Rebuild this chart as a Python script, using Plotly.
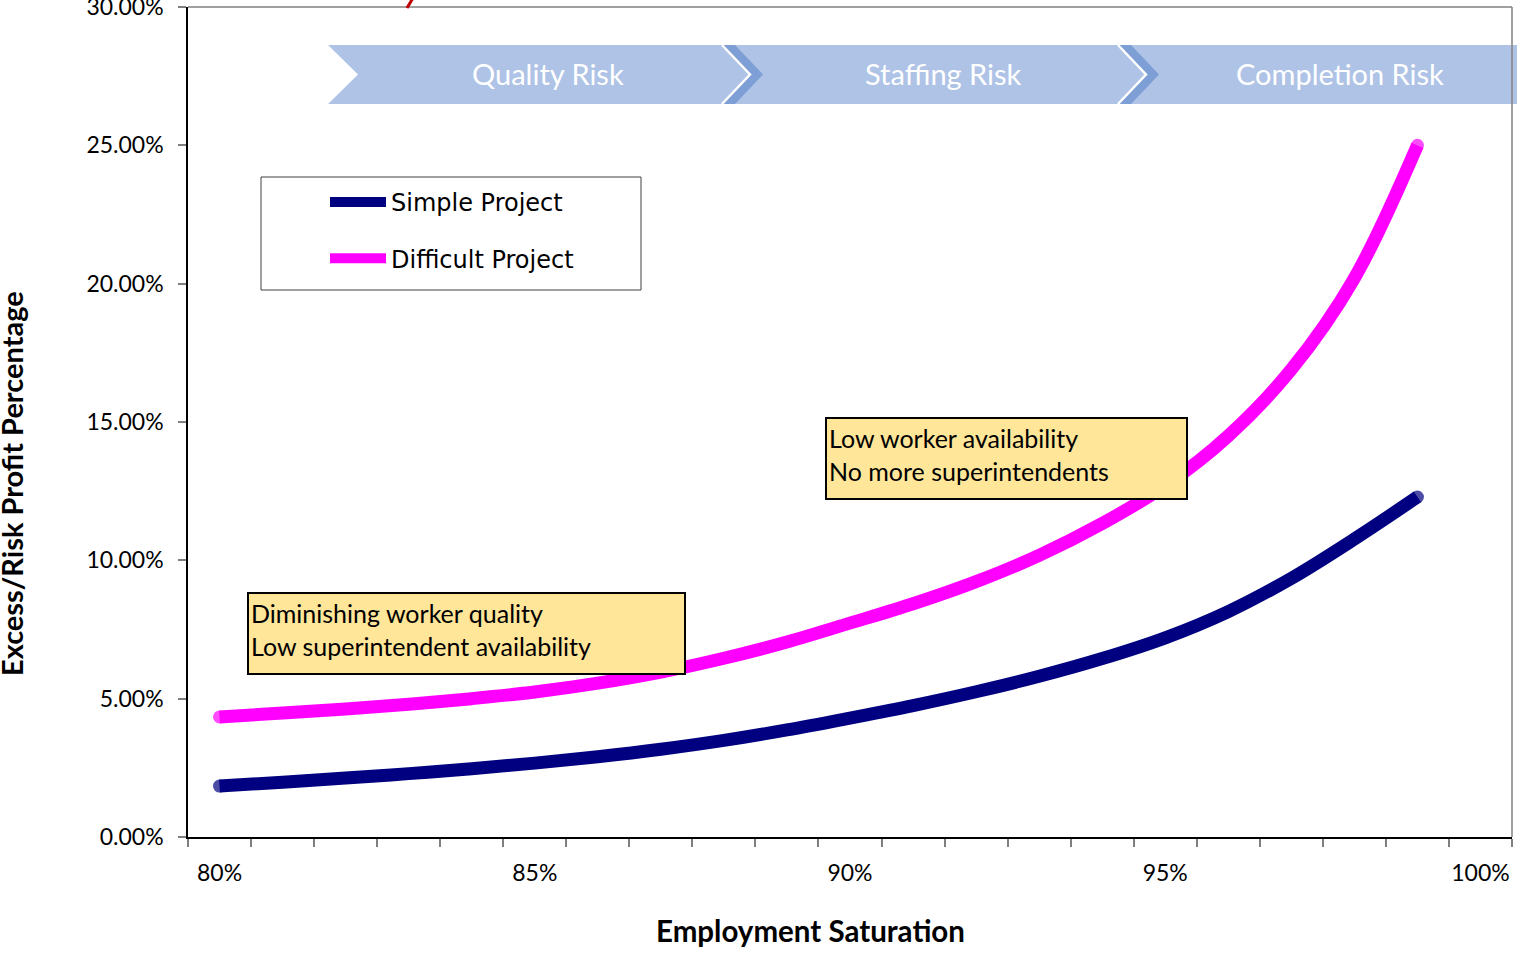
import plotly.graph_objects as go

# Employment saturation (%) and the excess/risk profit percentage for each project type
saturation = list(range(80, 100))
simple_project = [1.84, 1.98, 2.13, 2.29, 2.47, 2.67, 2.90, 3.17, 3.49, 3.87,
                  4.30, 4.75, 5.25, 5.81, 6.45, 7.20, 8.15, 9.35, 10.77, 12.29]
difficult_project = [4.34, 4.48, 4.63, 4.80, 5.00, 5.24, 5.56, 5.96, 6.46, 7.05,
                     7.73, 8.43, 9.23, 10.18, 11.33, 12.70, 14.50, 16.90, 20.20, 25.00]

x_tick_values = [80, 85, 90, 95, 100]
x_tick_labels = [f"{v}%" for v in x_tick_values]
y_tick_values = [0, 5, 10, 15, 20, 25, 30]
y_tick_labels = [f"{v:.2f}%" for v in y_tick_values]
risk_stages = ["Quality Risk", "Staffing Risk", "Completion Risk"]
note_quality = "Diminishing worker quality<br>Low superintendent availability"
note_staffing = "Low worker availability<br>No more superintendents"

W, H = 1517, 969
ML, MR, MT, MB = 188, 5, 7, 132
PW, PH = W - ML - MR, H - MT - MB

TEXT_FONT = "Lato, 'Open Sans', sans-serif"


def px(x):
    """Horizontal pixel -> paper fraction."""
    return (x - ML) / PW


def py(y):
    """Vertical pixel (from top) -> paper fraction."""
    return (MT + PH - y) / PH


fig = go.Figure()

series = [("Simple Project", simple_project, "#000080"),
          ("Difficult Project", difficult_project, "#FF00FF")]
for name, values, color in series:
    n = len(values)
    fig.add_trace(go.Scatter(
        x=saturation, y=values, name=name, legendgroup=name,
        mode="lines+markers",
        line=dict(color=color, width=13, shape="spline", smoothing=1.0),
        marker=dict(color=color, size=[13] + [0] * (n - 2) + [13], line=dict(width=0)),
        hoverinfo="skip",
    ))

shapes = []

# risk stage chevrons across the top of the plot
band_top, band_bot = 45, 104
mid = (band_top + band_bot) / 2
light, dark = "#AEC3E6", "#7E9ED6"
chevrons = [(328, 722), (722, 1118), (1118, 1600)]
for left, right in reversed(chevrons):
    tip = right + 28
    notch = left + 30
    path = (f"M {px(left)} {py(band_top)} L {px(right)} {py(band_top)} "
            f"L {px(tip)} {py(mid)} L {px(right)} {py(band_bot)} "
            f"L {px(left)} {py(band_bot)} L {px(notch)} {py(mid)} Z")
    shapes.append(dict(type="path", xref="paper", yref="paper", path=path,
                       fillcolor=light, line=dict(width=0), layer="above"))
for _, right in chevrons[:2]:
    path = (f"M {px(right)} {py(band_top)} L {px(right + 13)} {py(band_top)} "
            f"L {px(right + 41)} {py(mid)} L {px(right + 13)} {py(band_bot)} "
            f"L {px(right)} {py(band_bot)} L {px(right + 28)} {py(mid)} Z")
    shapes.append(dict(type="path", xref="paper", yref="paper", path=path,
                       fillcolor=dark, line=dict(width=0), layer="above"))
    path = (f"M {px(right)} {py(band_top)} L {px(right + 28)} {py(mid)} "
            f"L {px(right)} {py(band_bot)}")
    shapes.append(dict(type="path", xref="paper", yref="paper", path=path,
                       line=dict(color="white", width=2.5), layer="above"))

# callout boxes
for x0, y0, x1, y1 in [(248, 593, 685, 674), (826, 418, 1187, 499)]:
    shapes.append(dict(type="rect", xref="paper", yref="paper",
                       x0=px(x0), x1=px(x1), y0=py(y1), y1=py(y0),
                       fillcolor="#FFE699", line=dict(color="black", width=2),
                       layer="above"))

# legend frame
shapes.append(dict(type="rect", xref="paper", yref="paper",
                   x0=px(261), x1=px(641), y0=py(290), y1=py(177),
                   fillcolor="white", line=dict(color="#404040", width=1),
                   layer="above"))

# plot area frame (top and right)
shapes.append(dict(type="line", xref="paper", yref="paper", x0=0, x1=1, y0=1, y1=1,
                   line=dict(color="#808080", width=1.5), layer="above"))
shapes.append(dict(type="line", xref="paper", yref="paper", x0=1, x1=1, y0=0, y1=1,
                   line=dict(color="#808080", width=1.5), layer="above"))

# small red pointer stub entering from the top
shapes.append(dict(type="line", xref="paper", yref="paper",
                   x0=px(413), y0=py(-2), x1=px(407), y1=py(8),
                   line=dict(color="#C00000", width=3), layer="above"))

annotations = []
for label, cx in zip(risk_stages, [548, 943, 1340]):
    annotations.append(dict(xref="paper", yref="paper", x=px(cx), y=py(mid - 1.5),
                            text=label, showarrow=False, xanchor="center", yanchor="middle",
                            font=dict(family=TEXT_FONT, size=29, color="white")))

for text, x0, y0 in [(note_quality, 249, 596), (note_staffing, 827, 421)]:
    annotations.append(dict(xref="paper", yref="paper", x=px(x0), y=py(y0),
                            text=text, showarrow=False, xanchor="left", yanchor="top",
                            align="left",
                            font=dict(family=TEXT_FONT, size=25, color="black")))

annotations.append(dict(xref="paper", yref="paper", x=px(810), y=py(930),
                        text="<b>Employment Saturation</b>", showarrow=False,
                        xanchor="center", yanchor="middle",
                        font=dict(family=TEXT_FONT, size=29.5, color="black")))
annotations.append(dict(xref="paper", yref="paper", x=px(11), y=py(484),
                        text="<b>Excess/Risk Profit Percentage</b>", showarrow=False,
                        textangle=-90, xanchor="center", yanchor="middle",
                        font=dict(family=TEXT_FONT, size=29, color="black")))

fig.update_layout(
    width=W, height=H,
    margin=dict(l=ML, r=MR, t=MT, b=MB, autoexpand=False),
    paper_bgcolor="white", plot_bgcolor="white",
    shapes=shapes, annotations=annotations,
    showlegend=True,
    legend=dict(x=px(325), y=py(180), xanchor="left", yanchor="top",
                bgcolor="rgba(0,0,0,0)", borderwidth=0,
                font=dict(family="'DejaVu Sans', sans-serif", size=24, color="black"),
                itemwidth=56, tracegroupgap=22,
                itemclick=False, itemdoubleclick=False),
    xaxis=dict(range=[79.5, 100.5], tickmode="array", tickvals=x_tick_values,
               ticktext=x_tick_labels, ticks="", showgrid=False, zeroline=False,
               showline=True, linecolor="black", linewidth=1.5,
               ticklabelstandoff=15, ticklabeloverflow="allow",
               tickfont=dict(family=TEXT_FONT, size=23, color="black"),
               minor=dict(tickmode="linear", tick0=79.5, dtick=1, ticks="outside",
                          ticklen=8, tickcolor="#808080", tickwidth=1.5, showgrid=False)),
    yaxis=dict(range=[0, 30], tickmode="array", tickvals=y_tick_values,
               ticktext=y_tick_labels, ticks="outside", ticklen=8,
               tickcolor="#808080", tickwidth=1.5, showgrid=False, zeroline=False,
               showline=True, linecolor="black", linewidth=1.5,
               ticklabelstandoff=10, ticklabeloverflow="allow",
               tickfont=dict(family=TEXT_FONT, size=23, color="black")),
)

fig.write_html("out.html")
